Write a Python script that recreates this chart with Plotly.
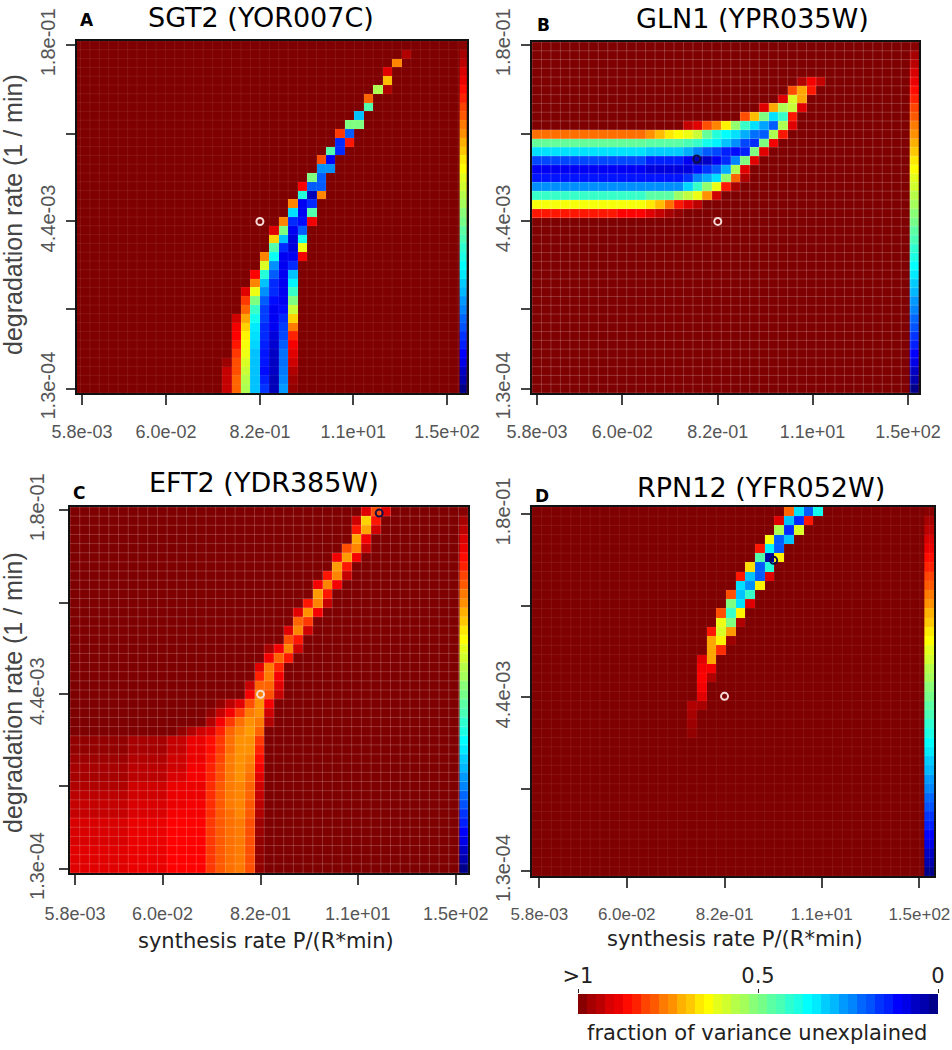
import numpy as np
import plotly.graph_objects as go

W, H = 952, 1050
X_TICKS = [5.8e-3, 6.0e-2, 8.2e-1, 1.1e1, 1.5e2]
X_LABELS = ["5.8e-03", "6.0e-02", "8.2e-01", "1.1e+01", "1.5e+02"]
Y_TICKS = [1.3e-4, 6.9e-4, 4.4e-3, 2.8e-2, 1.8e-1]
Y_LABELS = ["1.3e-04", "", "4.4e-03", "", "1.8e-01"]

# colour strip / colour key values, dark red end first
STRIP = [.99,.96,.94,.91,.89,.86,.84,.81,.79,.76,.74,.71,.69,.66,.64,.61,.59,.56,.54,.51,
         .49,.46,.44,.41,.39,.36,.34,.31,.29,.26,.24,.21,.19,.16,.14,.11,.09,.06,.04,.01]

# fraction of variance unexplained; each list is one row (top to bottom) from column *_start[i]
A_first = 1
A_start = [35,34,33,33,32,31,31,30,29,28,28,27,26,26,25,24,24,23,23,22,21,21,21,20,20,19,19,18,18,18,17,17,17,17,17,16,16,16,16]
A_vals = [[.95],[.75],[.9],[.7],[.55,.95],[.78],[.45],[.3],[.5,.5],[.82,.2],[.15,.85],[.45,.15],[.8,.1],[.25,.25],
          [.5,.2],[.87,.2,.2],[.4,.05,.75],[.75,.1,.15],[.33,.1,.45],[.75,.15,.12,.88],[.9,.5,.1,.2],[.68,.3,.08,.38],
          [.45,.15,.08,.62],[.75,.37,.1,.1,.88],[.6,.25,.1,.15],[.87,.4,.2,.1,.3],[.75,.3,.15,.1,.35],
          [.9,.62,.25,.15,.1,.42],[.82,.5,.2,.12,.1,.5],[.78,.42,.17,.1,.12,.58],[.92,.72,.38,.17,.1,.15,.68],
          [.88,.68,.34,.15,.1,.17,.76],[.87,.65,.33,.15,.08,.18,.84],[.85,.63,.32,.14,.07,.2,.88],
          [.82,.62,.3,.13,.06,.22,.9],[.97,.8,.6,.3,.13,.06,.22,.92],[.93,.8,.58,.3,.12,.06,.23,.95],
          [.93,.78,.56,.3,.14,.05,.24,.97],[.93,.78,.55,.3,.16,.05,.26,.98]]

B_first = 4
B_start = [28,27,26,24,22,16,0,0,0,0,0,0,0,0,0,0]
B_vals = [[.95,.88,.93],[.8,.72,.85],[.9,.6,.72],[.9,.72,.55,.58,.9],[.8,.7,.5,.33,.42,.85],
          [.93,.9,.8,.75,.65,.52,.42,.33,.27,.2,.55,.9],
          [.77]*12+[.74,.70,.66,.64,.62,.58,.47,.40,.36,.33,.28,.22,.2,.55,.85],
          [.47]*12+[.46]*4+[.44,.42,.38,.35,.3,.25,.18,.15,.5,.88],
          [.33]*12+[.31]*4+[.28,.24,.2,.18,.14,.12,.14,.5,.9],
          [.18]*12+[.14]*4+[.1,.05,.06,.1,.15,.24,.5,.9],
          [.1]*12+[.08]*4+[.08,.12,.16,.2,.28,.55,.9],
          [.13]*16+[.16,.24,.28,.33,.52,.78,.95],
          [.25]*16+[.32,.42,.52,.62,.85,.96],
          [.42]*12+[.46]*3+[.53,.57,.62,.74,.92],
          [.63]*12+[.66,.7,.77,.85,.9,.94],
          [.85]*9+[.87]*3+[.9,.93,.96,.98]]

C_first = 0
C_start = [30,29,29,29,28,27,27,26,25,25,24,23,23,22,22,20,20,19,19,18,18,15,14,14,11,0,0,0,0,0,0,0,0,0,0,0,0,0,0,0]
C_vals = [[.9,.8,.9],[.92,.68,.85],[.85,.72,.92],[.72,.88],[.8,.75,.93],[.88,.73,.88],[.73,.85],[.85,.75,.93],
          [.88,.75,.88],[.73,.85],[.85,.75,.93],[.9,.74,.88],[.78,.82],[.9,.75,.92],[.8,.85],[.96,.88,.75,.92],
          [.88,.78,.85],[.9,.76,.84],[.84,.76,.88],[.93,.78,.78,.9],[.88,.75,.8,.93],[.98,.94,.9,.8,.74,.88],
          [.98,.93,.88,.82,.76,.74,.92],[.95,.88,.82,.77,.74,.76,.95],[.98,.95,.92,.9,.84,.78,.75,.73,.78],
          [.98]*6+[.96]*4+[.93,.93,.89,.89,.86,.82,.77,.74,.74,.82],
          [.98]*6+[.96]*4+[.93,.93,.89,.89,.86,.82,.77,.74,.74,.84],
          [.97]*6+[.95]*4+[.92,.92,.89,.89,.85,.81,.76,.74,.75,.86],
          [.96]*6+[.94]*4+[.92,.92,.88,.88,.84,.8,.76,.74,.76,.88],
          [.96]*6+[.94]*4+[.91,.91,.88,.88,.84,.8,.76,.74,.77,.9],
          [.95]*6+[.92]*4+[.89,.89,.89,.89,.83,.79,.76,.75,.78,.92],
          [.94]*6+[.92]*4+[.89,.89,.89,.89,.83,.79,.76,.75,.78,.93],
          [.93]*6+[.91]*4+[.89,.89,.88,.88,.83,.79,.76,.75,.79,.94],
          [.93]*6+[.91]*4+[.88,.88,.88,.88,.83,.79,.77,.75,.79,.95],
          [.91]*6+[.89]*4+[.87]*4+[.82,.79,.77,.76,.8,.97],
          [.91]*6+[.89]*4+[.87]*4+[.82,.79,.77,.76,.8,.97],
          [.91]*6+[.89]*4+[.87]*4+[.82,.79,.77,.76,.8,.98],
          [.90]*6+[.89]*4+[.87]*4+[.82,.79,.77,.76,.8,.98],
          [.90]*6+[.89]*4+[.87]*4+[.82,.79,.77,.76,.8,.98],
          [.90]*6+[.89]*4+[.87]*4+[.82,.79,.77,.76,.8,.98]]

D_first = 0
D_start = [26,25,25,24,23,23,22,21,21,20,20,19,19,18,18,18,17,17,17,17,17,16,16,16,16]
D_vals = [[.78,.33,.2,.38],[.9,.3,.15,.85],[.55,.15,.6],[.63,.2,.3],[.85,.35,.2],[.45,.03,.65],[.67,.2,.4],
          [.85,.3,.2,.9],[.33,.25,.65],[.8,.3,.42],[.5,.33,.9],[.8,.42,.65],[.62,.5,.95],[.85,.6,.73],[.72,.65,.97],
          [.72,.83],[.9,.72],[.88,.88],[.87,.95],[.88],[.9],[.95,.96],[.96],[.97],[.98]]

PANEL_TITLES = ["SGT2 (YOR007C)", "GLN1 (YPR035W)", "EFT2 (YDR385W)", "RPN12 (YFR052W)"]
PANEL_LETTERS = ["A", "B", "C", "D"]
MARK_GREY_X = [8.2e-1, 8.2e-1, 8.2e-1, 8.2e-1]
MARK_GREY_Y = [4.4e-3, 4.4e-3, 4.4e-3, 4.5e-3]
MARK_BEST_X = [None, 0.46, 19.5, 3.05]
MARK_BEST_Y = [None, 0.0164, 0.17, 0.071]

# panel boxes in pixels: left, right, top, bottom; log10 ranges; strip start
BOX = [(77, 467, 41, 393), (532, 919, 42, 393), (70, 468, 507, 873), (532, 934, 507, 876)]
XR = [(-2.298, 2.418), (-2.296, 2.307), (-2.295, 2.319), (-2.322, 2.346)]
YR = [(-3.926, -.705), (-3.926, -.715), (-3.921, -.716), (-3.929, -.679)]
STRIP_LEFT = [2.329, 2.196, 2.22, 2.234]
GRID_LEFT = [-2.371, -2.296, -2.295, -2.322]
COL_STEP = [.1142, .1126, .1126, .1126]
GRID_ALPHA = [.08, .2, .2, .07]
X_STANDOFF = [12, 12, 14, 12]
Y_STANDOFF = [3, 3, 7, 3]
X_FONT = [18, 18, 18, 17]
DATA = [(A_first, A_start, A_vals), (B_first, B_start, B_vals), (C_first, C_start, C_vals), (D_first, D_start, D_vals)]
NCOL, NROW = 44, 40
JET = [[0, "#00007f"], [.11, "#0000ff"], [.36, "#00ffff"], [.5, "#7fff7f"], [.64, "#ffff00"], [.87, "#ff0000"], [1, "#7f0000"]]
FS = "Liberation Sans, Arial, sans-serif"
FD = "DejaVu Sans, sans-serif"


def matrix(first, starts, vals):
    m = np.ones((NROW, NCOL))
    for i, (s, v) in enumerate(zip(starts, vals)):
        m[first + i, s:s + len(v)] = v
    return m[::-1]


fig = go.Figure()
ann = []


def note(px, py, text, size, font=FD, angle=0, color="#111", bold=False):
    ann.append(dict(xref="paper", yref="paper", x=px / W, y=1 - py / H, text=f"<b>{text}</b>" if bold else text,
                    showarrow=False, xanchor="center", yanchor="middle", textangle=angle,
                    font=dict(family=font, size=size, color=color)))


for i in range(4):
    sx = "" if i == 0 else str(i + 1)
    l, r, t, b = BOX[i]
    xr, yr = XR[i], YR[i]
    xe = 10 ** (GRID_LEFT[i] + COL_STEP[i] * np.arange(NCOL + 1))
    ye = 10 ** np.linspace(yr[0], yr[1], NROW + 1)
    common = dict(xaxis="x" + sx, yaxis="y" + sx, colorscale=JET, zmin=0, zmax=1, showscale=False, hoverinfo="skip")
    fig.add_trace(go.Heatmap(z=matrix(*DATA[i]), x=xe, y=ye, **common))
    fig.add_trace(go.Heatmap(z=[[v] for v in STRIP[::-1]], x=[10 ** STRIP_LEFT[i], 10 ** xr[1]], y=ye, **common))
    # pale seams between the image cells
    gx, gy = [], []
    for e in xe:
        gx += [e, e, None]
        gy += [10 ** yr[0], 10 ** yr[1], None]
    for e in ye:
        gx += [10 ** xr[0], 10 ** xr[1], None]
        gy += [e, e, None]
    fig.add_trace(go.Scatter(x=gx, y=gy, mode="lines", xaxis="x" + sx, yaxis="y" + sx, hoverinfo="skip", showlegend=False,
                             line=dict(color=f"rgba(255,255,255,{GRID_ALPHA[i]})", width=1)))
    fig.add_trace(go.Scatter(x=[MARK_GREY_X[i]], y=[MARK_GREY_Y[i]], mode="markers", xaxis="x" + sx, yaxis="y" + sx,
                             hoverinfo="skip", showlegend=False,
                             marker=dict(symbol="circle-open", size=7, color="#f6dcd8", line=dict(width=2, color="#f6dcd8"))))
    if MARK_BEST_X[i] is not None:
        fig.add_trace(go.Scatter(x=[MARK_BEST_X[i]], y=[MARK_BEST_Y[i]], mode="markers", xaxis="x" + sx, yaxis="y" + sx,
                                 hoverinfo="skip", showlegend=False,
                                 marker=dict(symbol="circle-open", size=7, color="#10104a", line=dict(width=2, color="#10104a"))))
    fig.layout["xaxis" + sx] = dict(type="log", range=list(xr), domain=[l / W, r / W], anchor="y" + sx, automargin=False,
                                    tickmode="array", tickvals=X_TICKS, ticktext=X_LABELS, ticks="outside", ticklen=10,
                                    tickwidth=2, tickcolor="#444", ticklabelstandoff=X_STANDOFF[i], showgrid=False, zeroline=False,
                                    showline=True, mirror=True, linecolor="#111", linewidth=1.5,
                                    tickfont=dict(family=FS, size=X_FONT[i], color="#555"))
    fig.layout["yaxis" + sx] = dict(type="log", range=list(yr), domain=[1 - b / H, 1 - t / H], anchor="x" + sx, automargin=False,
                                    tickmode="array", tickvals=Y_TICKS, ticktext=Y_LABELS, ticks="outside", ticklen=9,
                                    tickwidth=2, tickcolor="#444", tickangle=-90, ticklabelstandoff=Y_STANDOFF[i],
                                    showgrid=False, zeroline=False,
                                    showline=True, mirror=True, linecolor="#111", linewidth=1.5,
                                    tickfont=dict(family=FS, size=20, color="#555"))

fig.add_trace(go.Heatmap(z=[STRIP], x=np.arange(41), y=[0, 1], xaxis="x5", yaxis="y5", colorscale=JET, zmin=0, zmax=1,
                         showscale=False, hoverinfo="skip"))
fig.layout.xaxis5 = dict(domain=[578 / W, 938 / W], anchor="y5", side="top", range=[0, 40], tickmode="array", automargin=False,
                         tickvals=[0, 20, 40], ticktext=[">1", "0.5", "0"], ticks="outside", ticklen=4, tickcolor="#222",
                         ticklabelstandoff=-2, showgrid=False, zeroline=False, tickfont=dict(family=FD, size=21, color="#222"))
fig.layout.yaxis5 = dict(domain=[1 - 1014 / H, 1 - 994 / H], anchor="x5", range=[0, 1], visible=False, automargin=False)

for (px, py), s in zip([(261, 17), (752, 19), (264, 483), (761, 487)], PANEL_TITLES):
    note(px, py, s, 27, color="#000")
for (px, py), s in zip([(87, 20), (543, 25), (79, 493), (542, 496)], PANEL_LETTERS):
    note(px, py, s, 17, bold=True, color="#000")
for py in (215, 693):
    note(13, py, "degradation rate (1 / min)", 25, font=FS, angle=-90, color="#444")
note(266, 941, "synthesis rate P/(R*min)", 21, color="#222")
note(735, 939, "synthesis rate P/(R*min)", 21, color="#222")
note(757, 1033, "fraction of variance unexplained", 21, color="#222")

fig.update_layout(width=W, height=H, margin=dict(l=0, r=0, t=0, b=0), paper_bgcolor="white", plot_bgcolor="#7f0000",
                  showlegend=False, annotations=ann)
fig.write_html("out.html", post_script="document.body.style.margin='0';", config={"displayModeBar": False})
